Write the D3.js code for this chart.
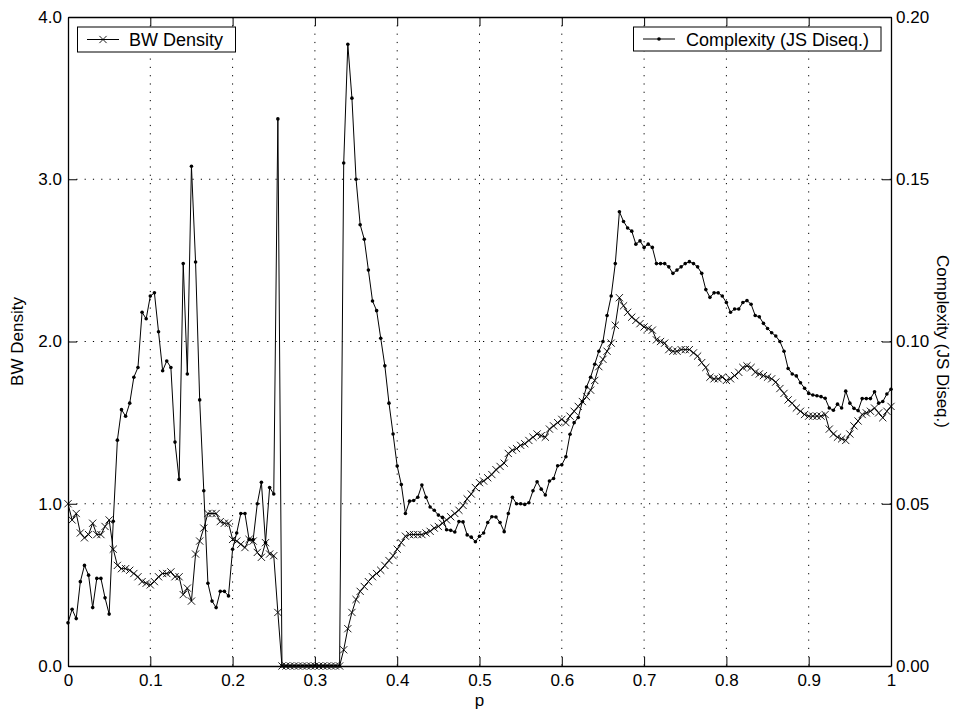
<!DOCTYPE html>
<html>
<head>
<meta charset="utf-8">
<script src="https://cdn.jsdelivr.net/npm/d3@7"></script>
<style>
  body { margin: 0; background: #fff; }
  svg text { font-family: "Liberation Sans", Arial, Helvetica, sans-serif; fill: #000; }
  .axis path, .axis line { stroke: #000; }
  .grid line { stroke: #000; stroke-width: 1; stroke-dasharray: 1.2,7.1; }
</style>
</head>
<body>
<div class="chart-area"></div>
<script>
// x values (p)
var pValues = [
  0.000,0.005,0.010,0.015,0.020,0.025,0.030,0.035,0.040,0.045,
  0.050,0.055,0.060,0.065,0.070,0.075,0.080,0.085,0.090,0.095,
  0.100,0.105,0.110,0.115,0.120,0.125,0.130,0.135,0.140,0.145,
  0.150,0.155,0.160,0.165,0.170,0.175,0.180,0.185,0.190,0.195,
  0.200,0.205,0.210,0.215,0.220,0.225,0.230,0.235,0.240,0.245,
  0.250,0.255,0.260,0.265,0.270,0.275,0.280,0.285,0.290,0.295,
  0.300,0.305,0.310,0.315,0.320,0.325,0.330,0.335,0.340,0.345,
  0.350,0.355,0.360,0.365,0.370,0.375,0.380,0.385,0.390,0.395,
  0.400,0.405,0.410,0.415,0.420,0.425,0.430,0.435,0.440,0.445,
  0.450,0.455,0.460,0.465,0.470,0.475,0.480,0.485,0.490,0.495,
  0.500,0.505,0.510,0.515,0.520,0.525,0.530,0.535,0.540,0.545,
  0.550,0.555,0.560,0.565,0.570,0.575,0.580,0.585,0.590,0.595,
  0.600,0.605,0.610,0.615,0.620,0.625,0.630,0.635,0.640,0.645,
  0.650,0.655,0.660,0.665,0.670,0.675,0.680,0.685,0.690,0.695,
  0.700,0.705,0.710,0.715,0.720,0.725,0.730,0.735,0.740,0.745,
  0.750,0.755,0.760,0.765,0.770,0.775,0.780,0.785,0.790,0.795,
  0.800,0.805,0.810,0.815,0.820,0.825,0.830,0.835,0.840,0.845,
  0.850,0.855,0.860,0.865,0.870,0.875,0.880,0.885,0.890,0.895,
  0.900,0.905,0.910,0.915,0.920,0.925,0.930,0.935,0.940,0.945,
  0.950,0.955,0.960,0.965,0.970,0.975,0.980,0.985,0.990,0.995,
  1.000
];

// BW density (left axis)
var bwDensity = [
  1.00,0.90,0.94,0.82,0.79,0.81,0.88,0.81,0.81,0.86,
  0.90,0.72,0.62,0.60,0.60,0.59,0.57,0.55,0.52,0.51,
  0.50,0.52,0.55,0.57,0.57,0.58,0.55,0.55,0.44,0.48,
  0.40,0.69,0.77,0.85,0.94,0.94,0.94,0.89,0.88,0.88,
  0.78,0.77,0.75,0.73,0.78,0.77,0.70,0.67,0.76,0.69,
  0.68,0.33,0,0,0,0,0,0,0,0,
  0,0,0,0,0,0,0,0.10,0.23,0.33,
  0.41,0.46,0.49,0.52,0.55,0.57,0.59,0.62,0.65,0.68,
  0.72,0.76,0.80,0.81,0.81,0.81,0.81,0.82,0.83,0.85,
  0.86,0.88,0.90,0.92,0.94,0.96,0.99,1.03,1.06,1.10,
  1.13,1.14,1.16,1.18,1.21,1.23,1.25,1.31,1.33,1.34,
  1.36,1.37,1.39,1.41,1.43,1.42,1.41,1.46,1.48,1.50,
  1.52,1.50,1.54,1.57,1.60,1.63,1.66,1.70,1.76,1.845,
  1.89,1.94,1.99,2.10,2.27,2.22,2.18,2.15,2.13,2.11,
  2.09,2.08,2.07,2.01,2.00,1.99,1.95,1.94,1.94,1.95,
  1.95,1.95,1.93,1.91,1.87,1.84,1.78,1.77,1.77,1.78,
  1.76,1.77,1.79,1.81,1.84,1.85,1.84,1.81,1.80,1.79,
  1.78,1.77,1.75,1.71,1.68,1.64,1.62,1.59,1.57,1.55,
  1.54,1.54,1.54,1.54,1.55,1.46,1.43,1.41,1.40,1.39,
  1.43,1.48,1.51,1.55,1.56,1.57,1.59,1.56,1.53,1.57,
  1.60
];

// Complexity (JS Diseq.) (right axis)
var complexity = [
  0.0133,0.0175,0.0146,0.026,0.031,0.028,0.018,0.027,0.027,0.021,
  0.016,0.0446,0.0696,0.079,0.077,0.081,0.089,0.092,0.109,0.107,
  0.114,0.115,0.103,0.091,0.094,0.092,0.069,0.0575,0.124,0.090,
  0.154,0.1245,0.082,0.054,0.0255,0.020,0.018,0.023,0.023,0.0216,
  0.036,0.041,0.047,0.047,0.039,0.039,0.050,0.0566,0.038,0.055,
  0.053,0.1686,0,0,0,0,0,0,0,0,
  0,0,0,0,0,0,0,0.155,0.1916,0.175,
  0.150,0.136,0.1315,0.122,0.1125,0.1095,0.101,0.0925,0.081,0.0715,
  0.0616,0.0559,0.047,0.0508,0.051,0.052,0.0558,0.052,0.049,0.048,
  0.0465,0.0458,0.042,0.0418,0.0413,0.0445,0.0444,0.0404,0.0397,0.0383,
  0.040,0.041,0.0442,0.046,0.0459,0.0442,0.0414,0.047,0.052,0.050,
  0.050,0.0498,0.0503,0.054,0.0568,0.0545,0.0527,0.057,0.0578,0.0617,
  0.062,0.0645,0.0714,0.075,0.0766,0.0815,0.086,0.089,0.093,0.097,
  0.100,0.108,0.114,0.124,0.140,0.137,0.135,0.134,0.130,0.131,
  0.129,0.130,0.129,0.124,0.124,0.124,0.123,0.121,0.122,0.123,
  0.124,0.1246,0.124,0.123,0.121,0.116,0.1136,0.115,0.115,0.114,
  0.112,0.109,0.110,0.110,0.112,0.1126,0.1115,0.108,0.1076,0.1056,
  0.104,0.1027,0.1017,0.100,0.097,0.0917,0.090,0.0894,0.0873,0.0856,
  0.084,0.0835,0.0833,0.083,0.0825,0.0795,0.0788,0.0807,0.0795,0.0847,
  0.081,0.0794,0.0787,0.0824,0.0824,0.0824,0.0845,0.081,0.0815,0.0838,
  0.0853
];

// ticks
var xTicks = [0, 0.1, 0.2, 0.3, 0.4, 0.5, 0.6, 0.7, 0.8, 0.9, 1];
var xTickLabels = ["0", "0.1", "0.2", "0.3", "0.4", "0.5", "0.6", "0.7", "0.8", "0.9", "1"];
var yTicks = [0, 1, 2, 3, 4];
var yTickLabels = ["0.0", "1.0", "2.0", "3.0", "4.0"];
var y2Ticks = [0, 0.05, 0.10, 0.15, 0.20];
var y2TickLabels = ["0.00", "0.05", "0.10", "0.15", "0.20"];

var margin = {top: 17, right: 62, bottom: 47, left: 68};
var width = 953 - margin.left - margin.right;
var height = 713 - margin.top - margin.bottom;

var svg = d3.select(".chart-area").append("svg")
    .attr("width", 953)
    .attr("height", 713);

var g = svg.append("g")
    .attr("transform", "translate(" + margin.left + "," + margin.top + ")");

var x = d3.scaleLinear().domain([0, 1]).range([0, width]);
var y = d3.scaleLinear().domain([0, 4]).range([height, 0]);
var y2 = d3.scaleLinear().domain([0, 0.2]).range([height, 0]);

// dotted grid
g.append("g").attr("class", "grid")
    .selectAll("line")
    .data(xTicks.slice(1, -1))
    .enter().append("line")
    .attr("x1", function(d) { return x(d); })
    .attr("x2", function(d) { return x(d); })
    .attr("y1", 0)
    .attr("y2", height);

g.append("g").attr("class", "grid")
    .selectAll("line")
    .data(yTicks.slice(1, -1))
    .enter().append("line")
    .attr("x1", 0)
    .attr("x2", width)
    .attr("y1", function(d) { return y(d); })
    .attr("y2", function(d) { return y(d); });

// axes, ticks pointing inward
g.append("g").attr("class", "axis")
    .attr("transform", "translate(0," + height + ")")
    .call(d3.axisBottom(x).tickValues(xTicks).tickSize(-9).tickSizeOuter(0).tickPadding(8)
        .tickFormat(function(d, i) { return xTickLabels[i]; }));

g.append("g").attr("class", "axis")
    .call(d3.axisTop(x).tickValues(xTicks).tickSize(-9).tickSizeOuter(0).tickFormat(""));

g.append("g").attr("class", "axis")
    .call(d3.axisLeft(y).tickValues(yTicks).tickSize(-9).tickSizeOuter(0).tickPadding(6)
        .tickFormat(function(d, i) { return yTickLabels[i]; }));

g.append("g").attr("class", "axis")
    .attr("transform", "translate(" + width + ",0)")
    .call(d3.axisRight(y2).tickValues(y2Ticks).tickSize(-9).tickSizeOuter(0).tickPadding(5)
        .tickFormat(function(d, i) { return y2TickLabels[i]; }));

g.selectAll(".axis text").style("font-size", "17px");
g.selectAll(".axis path").attr("stroke-width", 1.3);

// series
var bwLine = d3.line()
    .x(function(d, i) { return x(pValues[i]); })
    .y(function(d) { return y(d); });

var cLine = d3.line()
    .x(function(d, i) { return x(pValues[i]); })
    .y(function(d) { return y2(d); });

g.append("path")
    .datum(bwDensity)
    .attr("fill", "none")
    .attr("stroke", "#000")
    .attr("stroke-width", 1)
    .attr("d", bwLine);

var crossPath = "M-3.6,-3.6L3.6,3.6M-3.6,3.6L3.6,-3.6";

g.selectAll("path.cross")
    .data(bwDensity)
    .enter()
    .append("path")
    .attr("class", "cross")
    .attr("d", crossPath)
    .attr("stroke", "#000")
    .attr("stroke-width", 0.9)
    .attr("fill", "none")
    .attr("transform", function(d, i) {
        return "translate(" + x(pValues[i]) + "," + y(d) + ")";
    });

g.append("path")
    .datum(complexity)
    .attr("fill", "none")
    .attr("stroke", "#000")
    .attr("stroke-width", 1)
    .attr("d", cLine);

g.selectAll("circle.dot")
    .data(complexity)
    .enter()
    .append("circle")
    .attr("class", "dot")
    .attr("r", 1.8)
    .attr("fill", "#000")
    .attr("cx", function(d, i) { return x(pValues[i]); })
    .attr("cy", function(d) { return y2(d); });

// axis titles
svg.append("text")
    .attr("transform", "translate(23," + (margin.top + height / 2) + ") rotate(-90)")
    .attr("text-anchor", "middle")
    .style("font-size", "17px")
    .text("BW Density");

svg.append("text")
    .attr("transform", "translate(937," + (margin.top + height / 2) + ") rotate(90)")
    .attr("text-anchor", "middle")
    .style("font-size", "17px")
    .text("Complexity (JS Diseq.)");

svg.append("text")
    .attr("x", margin.left + width / 2)
    .attr("y", 706)
    .attr("text-anchor", "middle")
    .style("font-size", "17px")
    .text("p");

// legends
var leg1 = svg.append("g");
leg1.append("rect")
    .attr("x", 77.5).attr("y", 27).attr("width", 158).attr("height", 25)
    .attr("fill", "#fff").attr("stroke", "#000").attr("stroke-width", 1);
leg1.append("line")
    .attr("x1", 87).attr("x2", 119).attr("y1", 39.5).attr("y2", 39.5)
    .attr("stroke", "#000");
leg1.append("path")
    .attr("d", crossPath)
    .attr("transform", "translate(103,39.5)")
    .attr("stroke", "#000").attr("stroke-width", 0.9);
leg1.append("text")
    .attr("x", 129).attr("y", 46)
    .style("font-size", "18px")
    .text("BW Density");

var leg2 = svg.append("g");
leg2.append("rect")
    .attr("x", 633.5).attr("y", 27).attr("width", 247.5).attr("height", 24)
    .attr("fill", "#fff").attr("stroke", "#000").attr("stroke-width", 1);
leg2.append("line")
    .attr("x1", 643).attr("x2", 675).attr("y1", 39).attr("y2", 39)
    .attr("stroke", "#000");
leg2.append("circle")
    .attr("cx", 659).attr("cy", 39).attr("r", 1.8).attr("fill", "#000");
leg2.append("text")
    .attr("x", 686).attr("y", 45.5)
    .style("font-size", "18px")
    .text("Complexity (JS Diseq.)");
</script>
</body>
</html>
